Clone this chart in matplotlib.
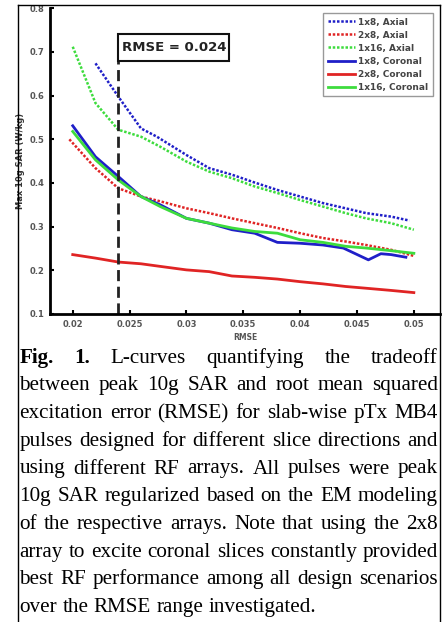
import matplotlib
matplotlib.use('Agg')
import matplotlib.pyplot as plt
from matplotlib.lines import Line2D
from matplotlib.patches import Rectangle

# RMSE values (x) shared by most curves
rmse = [0.020, 0.022, 0.024, 0.026, 0.0277, 0.030, 0.032, 0.034, 0.036, 0.038, 0.040, 0.042, 0.044, 0.0458, 0.048, 0.050]

ax_1x8_rmse = [0.022, 0.024, 0.026, 0.0274, 0.030, 0.032, 0.034, 0.036, 0.038, 0.040, 0.042, 0.044, 0.0458, 0.048, 0.0496]
ax_1x8_sar = [0.674, 0.598, 0.525, 0.506, 0.464, 0.434, 0.419, 0.401, 0.384, 0.369, 0.354, 0.342, 0.331, 0.323, 0.314]
ax_2x8_rmse = [0.0197] + rmse[1:]
ax_2x8_sar = [0.500, 0.434, 0.388, 0.369, 0.358, 0.342, 0.331, 0.319, 0.308, 0.297, 0.285, 0.274, 0.266, 0.258, 0.247, 0.233]
ax_1x16_sar = [0.712, 0.583, 0.522, 0.506, 0.483, 0.449, 0.426, 0.411, 0.392, 0.377, 0.361, 0.346, 0.331, 0.319, 0.308, 0.293]

co_1x8_rmse = [0.020, 0.022, 0.024, 0.026, 0.0277, 0.030, 0.032, 0.034, 0.036, 0.038, 0.040, 0.042, 0.0438, 0.046, 0.0471, 0.048, 0.0493]
co_1x8_sar = [0.531, 0.460, 0.415, 0.369, 0.350, 0.319, 0.308, 0.293, 0.285, 0.264, 0.262, 0.258, 0.251, 0.224, 0.238, 0.236, 0.230]
co_2x8_sar = [0.236, 0.228, 0.219, 0.215, 0.209, 0.201, 0.197, 0.187, 0.184, 0.180, 0.174, 0.169, 0.163, 0.159, 0.154, 0.149]
co_1x16_sar = [0.518, 0.453, 0.407, 0.369, 0.346, 0.319, 0.308, 0.297, 0.289, 0.285, 0.270, 0.264, 0.255, 0.251, 0.245, 0.239]

rmse_mark = 0.024
box_label = 'RMSE = 0.024'
xticks = [0.02, 0.025, 0.03, 0.035, 0.04, 0.045, 0.05]
yticks = [0.1, 0.2, 0.3, 0.4, 0.5, 0.6, 0.7, 0.8]

caption = [
    "Fig. 1. L-curves quantifying the tradeoff",
    "between peak 10g SAR and root mean squared",
    "excitation error (RMSE) for slab-wise pTx MB4",
    "pulses designed for different slice directions and",
    "using different RF arrays. All pulses were peak",
    "10g SAR regularized based on the EM modeling",
    "of the respective arrays. Note that using the 2x8",
    "array to excite coronal slices constantly provided",
    "best RF performance among all design scenarios",
    "over the RMSE range investigated.",
]

W, H = 448, 622
blue, red, green = '#1f1fc8', '#e02424', '#3ddc3d'
dots = (0, (1, 0.7))

fig = plt.figure(figsize=(W / 100, H / 100), dpi=100)
ax = fig.add_axes([50 / W, 1 - 314 / H, 390 / W, (314 - 8.3) / H])

ax.plot(ax_1x8_rmse, ax_1x8_sar, ls=dots, color=blue, lw=1.8, label='1x8, Axial')
ax.plot(ax_2x8_rmse, ax_2x8_sar, ls=dots, color=red, lw=1.8, label='2x8, Axial')
ax.plot(rmse, ax_1x16_sar, ls=dots, color=green, lw=1.8, label='1x16, Axial')
ax.plot(co_1x8_rmse, co_1x8_sar, '-', color=blue, lw=2, label='1x8, Coronal')
ax.plot(rmse, co_2x8_sar, '-', color=red, lw=2, label='2x8, Coronal')
ax.plot(rmse, co_1x16_sar, '-', color=green, lw=2, label='1x16, Coronal')

ax.set_xlim(0.018, 0.0523)
ax.set_ylim(0.1, 0.8)

# annotation box at the chosen RMSE
box_w, box_y0, box_y1 = 0.00977, 0.679, 0.741
ax.plot([rmse_mark, rmse_mark], [0.1, box_y0], color='#222222', ls='--', lw=2, dashes=(4, 2), clip_on=False)
ax.add_patch(Rectangle((rmse_mark, box_y0), box_w, box_y1 - box_y0, fc='white', ec='#111111', lw=1.5, zorder=5))
ax.text(rmse_mark + box_w / 2, (box_y0 + box_y1) / 2, box_label, ha='center', va='center', fontsize=9.5,
        fontweight='bold', color='#222222', zorder=6)

ax.set_xticks(xticks)
ax.set_xticklabels([f'{t:g}' for t in xticks])
ax.set_yticks(yticks)
ax.set_yticklabels([f'{t:g}' for t in yticks])
ax.tick_params(direction='in', length=3, width=1.5, labelsize=6, labelcolor='#555555', pad=4)
for lab in ax.get_xticklabels() + ax.get_yticklabels():
    lab.set_fontweight('bold')
for s in ['top', 'right']:
    ax.spines[s].set_visible(False)
for s in ['left', 'bottom']:
    ax.spines[s].set_linewidth(2)
ax.set_xlabel('RMSE', fontsize=5.5, fontweight='bold', color='#555555', labelpad=3)
ax.set_ylabel('Max 10g SAR (W/kg)', fontsize=6, fontweight='bold', color='#333333', labelpad=3)

leg = ax.legend(loc='upper right', bbox_to_anchor=(433 / W, 1 - 13 / H), bbox_transform=fig.transFigure,
                fontsize=6.5, handlelength=3.0, labelspacing=0.45, borderaxespad=0, fancybox=False,
                framealpha=1, edgecolor='#999999', borderpad=0.5, handletextpad=0.4)
for t in leg.get_texts():
    t.set_color('#444444')
    t.set_fontweight('bold')

# outer frame
fig.add_artist(Line2D([18 / W, 18 / W], [0, 1 - 5 / H], color='black', lw=1, transform=fig.transFigure))
fig.add_artist(Line2D([440 / W, 440 / W], [0, 1 - 5 / H], color='black', lw=1, transform=fig.transFigure))
fig.add_artist(Line2D([18 / W, 440 / W], [1 - 5 / H, 1 - 5 / H], color='black', lw=1, transform=fig.transFigure))

# justified caption
renderer = fig.canvas.get_renderer()
fs = 15.2
left, right = 19.5, 438
base0, step = 362.7, 27.7


def wwidth(word, weight):
    t = fig.text(0, 0, word, fontsize=fs, family='Liberation Serif', fontweight=weight)
    w = t.get_window_extent(renderer).width
    t.remove()
    return w


for i, line in enumerate(caption):
    words = line.split(' ')
    weights = ['bold' if (i == 0 and k < 2) else 'normal' for k in range(len(words))]
    widths = [wwidth(w, wt) for w, wt in zip(words, weights)]
    y = 1 - (base0 + i * step) / H
    if i == len(caption) - 1:
        gap = wwidth('a b', 'normal') - wwidth('ab', 'normal')
    else:
        gap = (right - left - sum(widths)) / (len(words) - 1)
    x = left
    for w, wt, wd in zip(words, weights, widths):
        fig.text(x / W, y, w, fontsize=fs, family='Liberation Serif', fontweight=wt, va='baseline', ha='left')
        x += wd + gap

fig.savefig('out.png', dpi=100)
